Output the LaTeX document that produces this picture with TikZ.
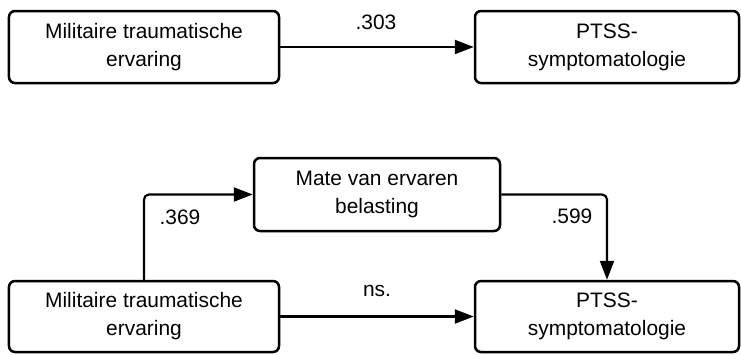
\documentclass[tikz,border=0pt]{standalone}
\usepackage{fontspec}
\setmainfont{Liberation Sans}
\usetikzlibrary{arrows.meta}
\begin{document}
\begin{tikzpicture}[x=1bp,y=-1bp,
  box/.style={draw=black,line width=2.5bp,rounded corners=6bp,align=center,inner sep=0pt,
    font=\fontsize{21}{28}\selectfont},
  conn/.style={draw=black,line width=2.2bp,-{Triangle[length=19bp,width=14bp]}},
  lbl/.style={font=\fontsize{21}{28}\selectfont,inner sep=0pt}]
\useasboundingbox (0,0) rectangle (741,354);
\node[box,minimum width=270bp,minimum height=72bp] (tl) at (144,47) {Militaire traumatische\\ervaring};
\node[box,minimum width=264bp,minimum height=72bp] (tr) at (607,47) {PTSS-\\symptomatologie};
\node[box,minimum width=246bp,minimum height=73bp] (mid) at (377,194.5) {Mate van ervaren\\belasting};
\node[box,minimum width=270bp,minimum height=71bp] (bl) at (144,316.5) {Militaire traumatische\\ervaring};
\node[box,minimum width=264bp,minimum height=71bp] (br) at (607,316.5) {PTSS-\\symptomatologie};
\draw[conn] (tl.east) -- (tr.west);
\draw[conn,rounded corners=5bp] (bl.north) |- (mid.west);
\draw[conn,rounded corners=5bp] (mid.east) -| (br.north);
\draw[conn] (bl.east) -- (br.west);
\node[lbl] (l303) at (376,22) {.303};
\node[lbl] (l369) at (180,217) {.369};
\node[lbl] (l599) at (572,216) {.599};
\node[lbl] (lns) at (377,291) {ns.};
\end{tikzpicture}
\end{document}
